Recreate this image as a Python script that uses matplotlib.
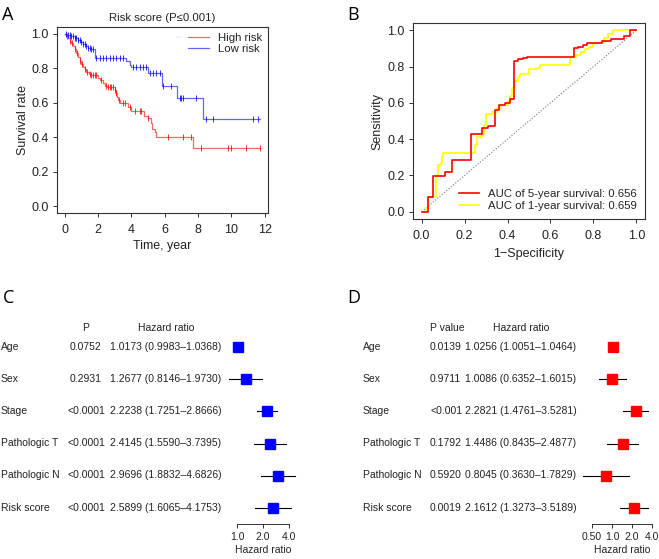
import numpy as np
import matplotlib
matplotlib.use("Agg")
import matplotlib.pyplot as plt
from matplotlib.lines import Line2D

plt.rcParams["font.family"] = ["Liberation Sans", "DejaVu Sans"]

W, H = 659, 559

# ── Panel A: Kaplan-Meier data ──────────────────────────────
high_t = [0.0, 0.1, 0.2, 0.3, 0.4, 0.5, 0.6, 0.7, 0.8, 0.9, 1.0, 1.1, 1.2, 1.3,
          1.45, 1.6, 2.0, 2.1, 2.3, 2.4, 2.55, 3.0, 3.05, 3.15, 3.2, 3.3, 3.8,
          4.0, 4.75, 5.0, 5.15, 5.25, 5.4, 5.5, 7.7, 11.7]
high_s = [1.0, 0.99, 0.975, 0.96, 0.945, 0.93, 0.91, 0.89, 0.865, 0.845, 0.825,
          0.81, 0.795, 0.78, 0.765, 0.76, 0.745, 0.73, 0.715, 0.70, 0.69, 0.675,
          0.655, 0.635, 0.615, 0.60, 0.575, 0.55, 0.525, 0.51, 0.48, 0.45, 0.43,
          0.40, 0.34, 0.34]
high_cens = [0.15, 0.3, 0.45, 0.6, 0.75, 0.9, 1.05, 1.2, 1.35, 1.5, 1.6, 1.7,
             1.8, 1.9, 2.2, 2.5, 2.6, 2.7, 2.8, 2.9, 3.0, 3.1, 3.25, 3.5, 3.6,
             3.9, 4.2, 4.5, 4.6, 5.0, 6.2, 7.1, 7.6, 8.2, 9.8, 10.0, 10.9, 11.7]

low_t = [0.0, 0.15, 0.35, 0.6, 0.8, 0.95, 1.1, 1.25, 1.4, 1.6, 1.8, 3.7, 3.9,
         4.0, 5.0, 5.85, 6.75, 8.3, 11.7]
low_s = [1.0, 0.995, 0.985, 0.975, 0.965, 0.955, 0.94, 0.93, 0.92, 0.91, 0.86,
         0.84, 0.82, 0.805, 0.77, 0.70, 0.63, 0.505, 0.505]
low_cens = [0.1, 0.2, 0.3, 0.4, 0.5, 0.6, 0.7, 0.8, 0.9, 1.0, 1.1, 1.2, 1.3,
            1.4, 1.5, 1.6, 1.7, 1.9, 2.1, 2.3, 2.5, 2.7, 2.9, 3.1, 3.3, 3.5,
            4.1, 4.3, 4.5, 4.7, 4.9, 5.1, 5.3, 5.5, 5.7, 5.9, 6.4, 6.9, 7.0,
            7.1, 7.9, 8.5, 8.9, 11.3, 11.6]

# ── Panel B: ROC data ───────────────────────────────────────
roc5_fpr = [0.0, 0.02, 0.03, 0.055, 0.11, 0.14, 0.23, 0.28, 0.31, 0.34, 0.36,
            0.39, 0.41, 0.43, 0.45, 0.47, 0.49, 0.71, 0.73, 0.75, 0.77, 0.84,
            0.88, 0.94, 0.97, 1.0]
roc5_tpr = [0.0, 0.0, 0.08, 0.195, 0.22, 0.285, 0.43, 0.46, 0.475, 0.56, 0.59,
            0.60, 0.62, 0.83, 0.84, 0.845, 0.85, 0.90, 0.91, 0.92, 0.93, 0.94,
            0.95, 0.97, 1.0, 1.0]
roc1_fpr = [0.0, 0.02, 0.03, 0.06, 0.065, 0.075, 0.09, 0.095, 0.10, 0.24,
            0.25, 0.26, 0.28, 0.29, 0.30, 0.33, 0.35, 0.37, 0.40, 0.41, 0.42,
            0.43, 0.45, 0.46, 0.50, 0.54, 0.55, 0.68, 0.69, 0.72, 0.74, 0.76,
            0.78, 0.80, 0.83, 0.85, 0.87, 0.89, 1.0]
roc1_tpr = [0.0, 0.02, 0.08, 0.08, 0.20, 0.26, 0.27, 0.30, 0.325, 0.325, 0.37,
            0.41, 0.43, 0.48, 0.54, 0.55, 0.57, 0.59, 0.61, 0.64, 0.68, 0.72,
            0.74, 0.76, 0.785, 0.79, 0.81, 0.81, 0.85, 0.865, 0.88, 0.895,
            0.91, 0.93, 0.935, 0.96, 0.98, 1.0, 1.0]

# ── Panels C/D: forest data ─────────────────────────────────
variables = ["Age", "Sex", "Stage", "Pathologic T", "Pathologic N", "Risk score"]
uni_p = ["0.0752", "0.2931", "<0.0001", "<0.0001", "<0.0001", "<0.0001"]
uni_hr = [1.0173, 1.2677, 2.2238, 2.4145, 2.9696, 2.5899]
uni_lo = [0.9983, 0.8146, 1.7251, 1.5590, 1.8832, 1.6065]
uni_hi = [1.0368, 1.9730, 2.8666, 3.7395, 4.6826, 4.1753]
multi_p = ["0.0139", "0.9711", "<0.001", "0.1792", "0.5920", "0.0019"]
multi_hr = [1.0256, 1.0086, 2.2821, 1.4486, 0.8045, 2.1612]
multi_lo = [1.0051, 0.6352, 1.4761, 0.8435, 0.3630, 1.3273]
multi_hi = [1.0464, 1.6015, 3.5281, 2.4877, 1.7829, 3.5189]

text_color = "#222222"
fs = 7.5        # forest tables
fs_tick = 9     # KM / ROC tick + axis labels
fs_leg = 8.2    # titles and legends


def px_axes(l, t, r, b):
    return [l / W, 1 - b / H, (r - l) / W, (b - t) / H]


def fx(x):
    return x / W


def fy(y):
    return 1 - y / H


def style_r_axes(ax):
    for sp in ax.spines.values():
        sp.set_edgecolor("#333333")
        sp.set_linewidth(0.8)
    ax.tick_params(labelsize=fs_tick, colors="#333333", labelcolor=text_color,
                   length=3, width=0.7)
    ax.tick_params(axis="x", pad=5)
    ax.tick_params(axis="y", pad=3)


fig = plt.figure(figsize=(W / 100, H / 100), dpi=100)

# ── A ──
axA = fig.add_axes(px_axes(57, 27, 268, 213))
axA.plot(high_t, high_s, drawstyle="steps-post", color="red", alpha=0.6, lw=0.9)
axA.plot(low_t, low_s, drawstyle="steps-post", color="blue", alpha=0.6, lw=0.9)
hi_idx = np.searchsorted(high_t, high_cens, side="right") - 1
lo_idx = np.searchsorted(low_t, low_cens, side="right") - 1
axA.plot(high_cens, np.array(high_s)[hi_idx], "|", color="red", alpha=0.8, ms=4, mew=0.7)
axA.plot(low_cens, np.array(low_s)[lo_idx], "|", color="blue", alpha=0.8, ms=4, mew=0.7)
axA.set_xlim(-0.47, 12.2)
axA.set_ylim(-0.04, 1.04)
axA.set_xticks([0, 2, 4, 6, 8, 10, 12])
axA.set_yticks([0.0, 0.2, 0.4, 0.6, 0.8, 1.0])
axA.set_yticklabels(["0.0", "0.2", "0.4", "0.6", "0.8", "1.0"])
axA.set_title("Risk score (P≤0.001)", fontsize=fs_leg, color=text_color, pad=4)
axA.set_xlabel("Time, year", fontsize=fs_tick, color=text_color, labelpad=3)
axA.set_ylabel("Survival rate", fontsize=fs_tick, color=text_color, labelpad=2)
style_r_axes(axA)
axA.legend(handles=[Line2D([], [], color="red", alpha=0.6, lw=0.9),
                    Line2D([], [], color="blue", alpha=0.6, lw=0.9)],
           labels=["High risk", "Low risk"], loc="upper right", frameon=False,
           fontsize=fs_leg, handlelength=1.8, borderaxespad=0.1, labelspacing=0.15,
           labelcolor=text_color)

# ── B ──
axB = fig.add_axes(px_axes(413, 23, 645, 219))
axB.plot([0, 1], [0, 1], linestyle=":", color="#777777", lw=0.8)
axB.plot(roc1_fpr, roc1_tpr, drawstyle="steps-post", color="#FFFF00", lw=1.2,
         label="AUC of 1-year survival: 0.659")
axB.plot(roc5_fpr, roc5_tpr, drawstyle="steps-post", color="#FF0000", lw=1.2,
         label="AUC of 5-year survival: 0.656")
axB.set_xlim(-0.04, 1.04)
axB.set_ylim(-0.04, 1.04)
ticks = [0.0, 0.2, 0.4, 0.6, 0.8, 1.0]
axB.set_xticks(ticks)
axB.set_yticks(ticks)
axB.set_xticklabels([f"{t:.1f}" for t in ticks])
axB.set_yticklabels([f"{t:.1f}" for t in ticks])
axB.set_xlabel("1\u2212Specificity", fontsize=fs_tick, color=text_color, labelpad=4)
axB.set_ylabel("Sensitivity", fontsize=fs_tick, color=text_color, labelpad=3)
style_r_axes(axB)
h, l = axB.get_legend_handles_labels()
axB.legend(h[::-1], l[::-1], loc="lower right", frameon=False, fontsize=fs_leg,
           handlelength=1.8, borderaxespad=0.3, labelspacing=0.15,
           labelcolor=text_color)

# ── C / D forest plots ──
row_y = [347, 379, 411, 443, 475, 508]


def forest(l, r, xlim, ticks, ticklabels, hr, lo, hi, color, center):
    ax = fig.add_axes(px_axes(l, 331, r, 524))
    ax.set_xscale("log", base=2)
    for i in range(len(hr)):
        ax.plot([lo[i], hi[i]], [i, i], color="black", lw=0.8)
        ax.plot(hr[i], i, "s", color=color, ms=7.5, mec=color)
    ax.set_xlim(*xlim)
    ax.set_ylim(5.5, -0.5)
    for s in ["left", "right", "top"]:
        ax.spines[s].set_visible(False)
    ax.spines["bottom"].set_bounds(ticks[0], ticks[-1])
    ax.spines["bottom"].set_linewidth(0.7)
    ax.spines["bottom"].set_color("#333333")
    ax.set_yticks([])
    ax.set_xticks(ticks)
    ax.set_xticklabels(ticklabels)
    ax.xaxis.set_minor_locator(plt.NullLocator())
    ax.tick_params(axis="x", labelsize=fs, length=3, width=0.7, pad=3,
                   colors="#333333", labelcolor=text_color)
    fig.text(fx(center), fy(550), "Hazard ratio", fontsize=fs, color=text_color,
             ha="center", va="center")
    return ax


forest(225, 300, (0.727, 5.36), [1.0, 2.0, 4.0], ["1.0", "2.0", "4.0"],
       uni_hr, uni_lo, uni_hi, "#0000FF", 263)
forest(578, 656, (0.308, 4.59), [0.5, 1.0, 2.0, 4.0], ["0.50", "1.0", "2.0", "4.0"],
       multi_hr, multi_lo, multi_hi, "#FF0000", 622)

# table text C
fig.text(fx(86), fy(328), "P", fontsize=fs, color=text_color, ha="center", va="center")
fig.text(fx(166), fy(328), "Hazard ratio", fontsize=fs, color=text_color, ha="center", va="center")
for i, name in enumerate(variables):
    y = fy(row_y[i])
    fig.text(fx(1), y, name, fontsize=fs, color=text_color, ha="left", va="center")
    fig.text(fx(86), y, uni_p[i], fontsize=fs, color=text_color, ha="center", va="center")
    fig.text(fx(166), y, f"{uni_hr[i]:.4f} ({uni_lo[i]:.4f}\u2013{uni_hi[i]:.4f})",
             fontsize=fs, color=text_color, ha="center", va="center")

# table text D
fig.text(fx(430), fy(328), "P value", fontsize=fs, color=text_color, ha="left", va="center")
fig.text(fx(521), fy(328), "Hazard ratio", fontsize=fs, color=text_color, ha="center", va="center")
for i, name in enumerate(variables):
    y = fy(row_y[i])
    fig.text(fx(363), y, name, fontsize=fs, color=text_color, ha="left", va="center")
    fig.text(fx(430), y, multi_p[i], fontsize=fs, color=text_color, ha="left", va="center")
    fig.text(fx(521), y, f"{multi_hr[i]:.4f} ({multi_lo[i]:.4f}\u2013{multi_hi[i]:.4f})",
             fontsize=fs, color=text_color, ha="center", va="center")

# panel letters
for letter, (x, y) in {"A": (2, 15), "B": (347, 15), "C": (3, 298), "D": (347, 298)}.items():
    fig.text(fx(x), fy(y), letter, fontsize=13, color="black", ha="left", va="center",
             family=["Open Sans", "DejaVu Sans"])

fig.savefig("out.png", dpi=100, facecolor="white")
